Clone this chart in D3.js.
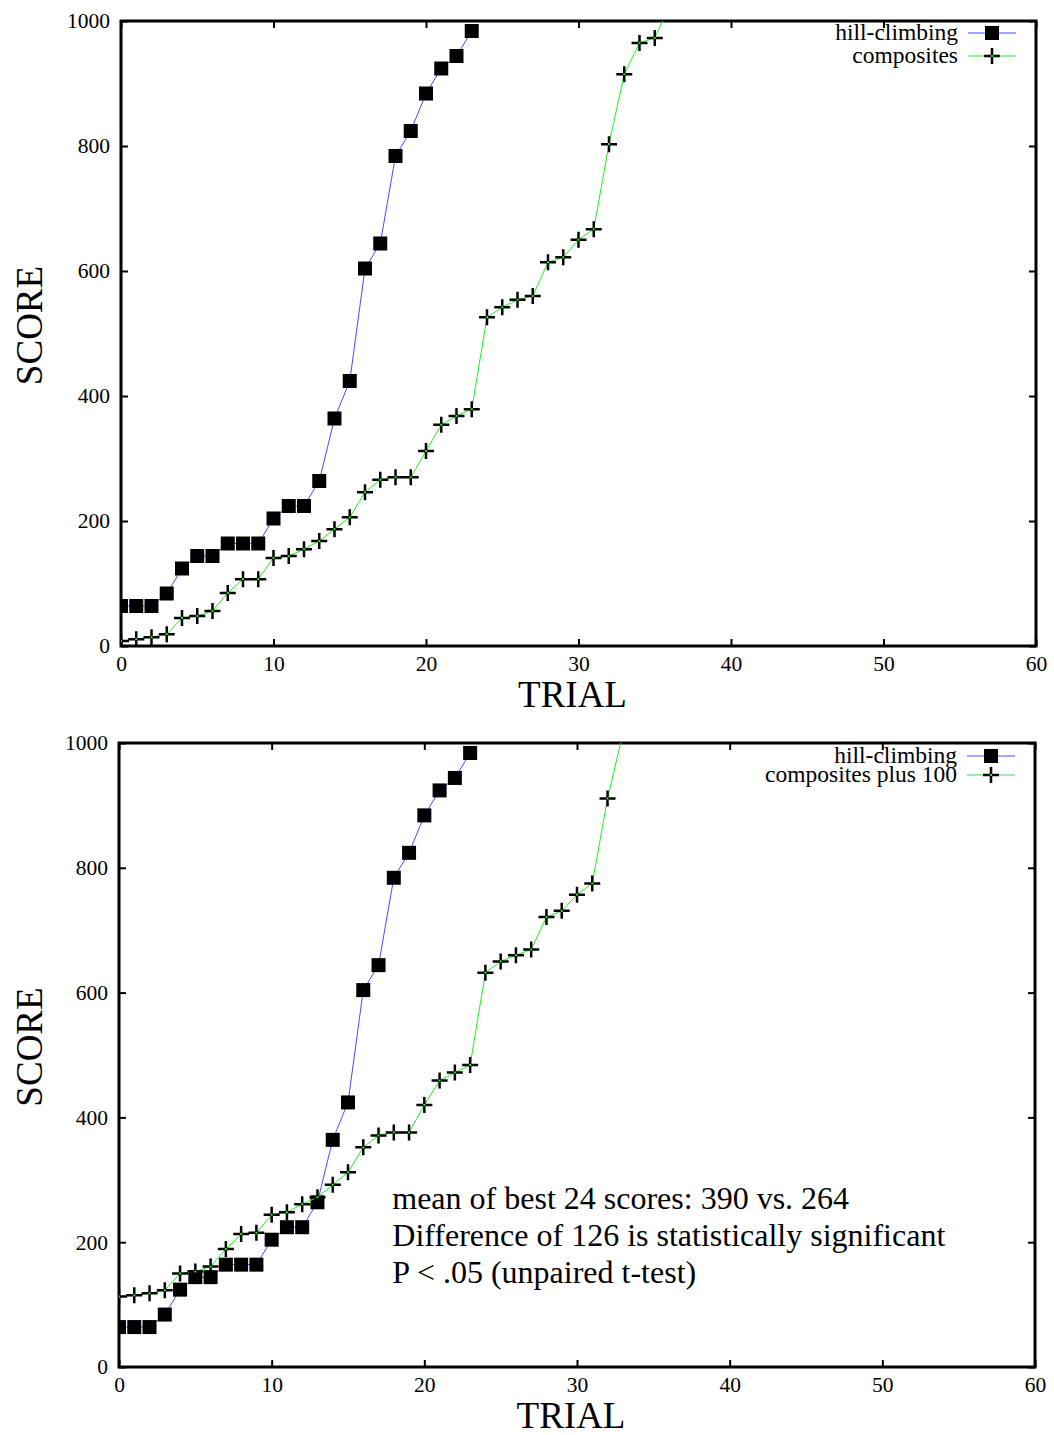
<!DOCTYPE html>
<html>
<head>
<meta charset="utf-8">
<script src="https://cdn.jsdelivr.net/npm/d3@7"></script>
<style>
  body { margin: 0; background: #fff; }
  text { font-family: "Liberation Serif", "Times New Roman", serif; fill: #000; }
</style>
</head>
<body>
<div id="charts"></div>
<script>
// scores per trial (trial number = index in the array)
var hillClimbing = [64, 64, 64, 84, 124, 144, 144, 164, 164, 164, 204, 224, 224, 264,
                    364, 424, 604, 644, 784, 824, 884, 924, 944, 984];
var composites = [8, 11, 14, 19, 45, 48, 56, 85, 107, 107, 141, 144, 155, 168, 187, 206,
                  246, 266, 270, 270, 312, 354, 368, 379, 526, 542, 554, 560, 614, 622,
                  650, 667, 803, 915, 965, 973, 1025];
var compositesPlus100 = [113, 115, 118, 123, 150, 153, 161, 189, 213, 215, 244, 248, 261,
                         272, 292, 312, 352, 371, 376, 376, 420, 459, 472, 484, 632, 650,
                         660, 669, 721, 731, 757, 775, 911, 1015];

var xTicks = [0, 10, 20, 30, 40, 50, 60];
var yTicks = [0, 200, 400, 600, 800, 1000];
var topLegend = ["hill-climbing", "composites"];
var bottomLegend = ["hill-climbing", "composites plus 100"];
var noteLines = ["mean of best 24 scores: 390 vs. 264",
                 "Difference of 126 is statistically significant",
                 "P < .05 (unpaired t-test)"];

var blue = "#4a4aff", green = "#22ee22";

var svg = d3.select("#charts")
    .append("svg")
    .attr("width", 1054)
    .attr("height", 1435);

//**************************************************************
// one gnuplot-style panel

function drawChart(opt) {
  var width = opt.right - opt.left,
      height = opt.bottom - opt.top;

  var g = svg.append("g")
      .attr("transform", "translate(" + opt.left + "," + opt.top + ")");

  var x = d3.scaleLinear().domain([0, 60]).range([0, width]);
  var y = d3.scaleLinear().domain([0, 1000]).range([height, 0]);

  g.append("clipPath")
    .attr("id", opt.id)
    .append("rect")
    .attr("width", width)
    .attr("height", height);

  // axes with inward ticks on all four sides
  var fmt = d3.format("d");
  var bx = g.append("g").attr("transform", "translate(0," + height + ")")
    .call(d3.axisBottom(x).tickValues(xTicks).tickFormat(fmt).tickSizeInner(-7).tickSizeOuter(0).tickPadding(10));
  var ly = g.append("g")
    .call(d3.axisLeft(y).tickValues(yTicks).tickFormat(fmt).tickSizeInner(-7).tickSizeOuter(0).tickPadding(11));
  var tx = g.append("g")
    .call(d3.axisTop(x).tickValues(xTicks).tickFormat("").tickSizeInner(-7).tickSizeOuter(0));
  var ry = g.append("g").attr("transform", "translate(" + width + ",0)")
    .call(d3.axisRight(y).tickValues(yTicks).tickFormat("").tickSizeInner(-7).tickSizeOuter(0));

  [bx, ly, tx, ry].forEach(function(a) {
    a.attr("font-family", "Liberation Serif").attr("font-size", 21.5);
    a.select(".domain").remove();
    a.selectAll(".tick line").attr("stroke", "#000").attr("stroke-width", 2);
    a.selectAll(".tick text").attr("fill", "#000");
  });

  // frame
  g.append("rect")
    .attr("width", width)
    .attr("height", height)
    .attr("fill", "none")
    .attr("stroke", "#000")
    .attr("stroke-width", 3);

  // axis titles
  g.append("text")
    .attr("text-anchor", "middle")
    .attr("x", width / 2 - 6)
    .attr("y", height + 61)
    .style("font-size", "37px")
    .text("TRIAL");

  g.append("text")
    .attr("text-anchor", "middle")
    .attr("transform", "rotate(-90)")
    .attr("x", -(height / 2) + 8)
    .attr("y", -opt.left + 42)
    .style("font-size", "37px")
    .text("SCORE");

  var line = d3.line()
    .x(function(d, i) { return x(i); })
    .y(function(d) { return y(d); });

  var plot = g.append("g").attr("clip-path", "url(#" + opt.id + ")");

  // series 1: hill-climbing
  plot.append("path")
    .datum(hillClimbing)
    .attr("d", line)
    .attr("fill", "none")
    .attr("stroke", blue)
    .attr("stroke-width", 1);

  plot.selectAll("rect.sq")
    .data(hillClimbing)
    .enter()
    .append("rect")
    .attr("class", "sq")
    .attr("x", function(d, i) { return x(i) - 7; })
    .attr("y", function(d) { return y(d) - 7; })
    .attr("width", 14)
    .attr("height", 14)
    .attr("fill", "#000");

  // series 2: composites
  plot.append("path")
    .datum(opt.second)
    .attr("d", line)
    .attr("fill", "none")
    .attr("stroke", green)
    .attr("stroke-width", 1);

  var crosses = plot.selectAll("g.cr")
    .data(opt.second)
    .enter()
    .append("g")
    .attr("class", "cr")
    .attr("transform", function(d, i) { return "translate(" + x(i) + "," + y(d) + ")"; });

  crosses.append("path")
    .attr("d", "M-8,0H8M0,-8V8")
    .attr("stroke", "#000")
    .attr("stroke-width", 2.5);
  crosses.append("rect")
    .attr("x", -1).attr("y", -1)
    .attr("width", 2).attr("height", 2)
    .attr("fill", green);

  // legend
  var leg = g.selectAll("g.leg")
    .data(opt.legend)
    .enter()
    .append("g")
    .attr("class", "leg")
    .attr("transform", function(d, i) {
      return "translate(" + (width - 20) + "," + (opt.legY + i * opt.legStep) + ")";
    });

  leg.append("text")
    .attr("text-anchor", "end")
    .attr("x", -58)
    .attr("dy", "0.3em")
    .style("font-size", "23.5px")
    .text(function(d) { return d; });

  leg.append("line")
    .attr("x1", -48).attr("x2", 0)
    .attr("stroke", function(d, i) { return i == 0 ? blue : green; })
    .attr("stroke-width", 1);

  leg.filter(function(d, i) { return i == 0; })
    .append("rect")
    .attr("x", -31).attr("y", -7)
    .attr("width", 14).attr("height", 14)
    .attr("fill", "#000");

  var lc = leg.filter(function(d, i) { return i == 1; });
  lc.append("path")
    .attr("d", "M-32,0H-16M-24,-8V8")
    .attr("stroke", "#000")
    .attr("stroke-width", 2.5);
  lc.append("rect")
    .attr("x", -25).attr("y", -1)
    .attr("width", 2).attr("height", 2)
    .attr("fill", green);

  // annotation
  if (opt.notes) {
    g.selectAll("text.note")
      .data(opt.notes)
      .enter()
      .append("text")
      .attr("class", "note")
      .attr("x", x(17.9))
      .attr("y", function(d, i) { return y(250) - 2 + i * 37; })
      .style("font-size", "32px")
      .text(function(d) { return d; });
  }
}

drawChart({id: "clipTop", left: 121, right: 1036, top: 21, bottom: 646,
           second: composites, legend: topLegend, legY: 12, legStep: 23});
drawChart({id: "clipBottom", left: 119, right: 1035, top: 743, bottom: 1367,
           second: compositesPlus100, legend: bottomLegend, legY: 13, legStep: 19,
           notes: noteLines});
</script>
</body>
</html>
